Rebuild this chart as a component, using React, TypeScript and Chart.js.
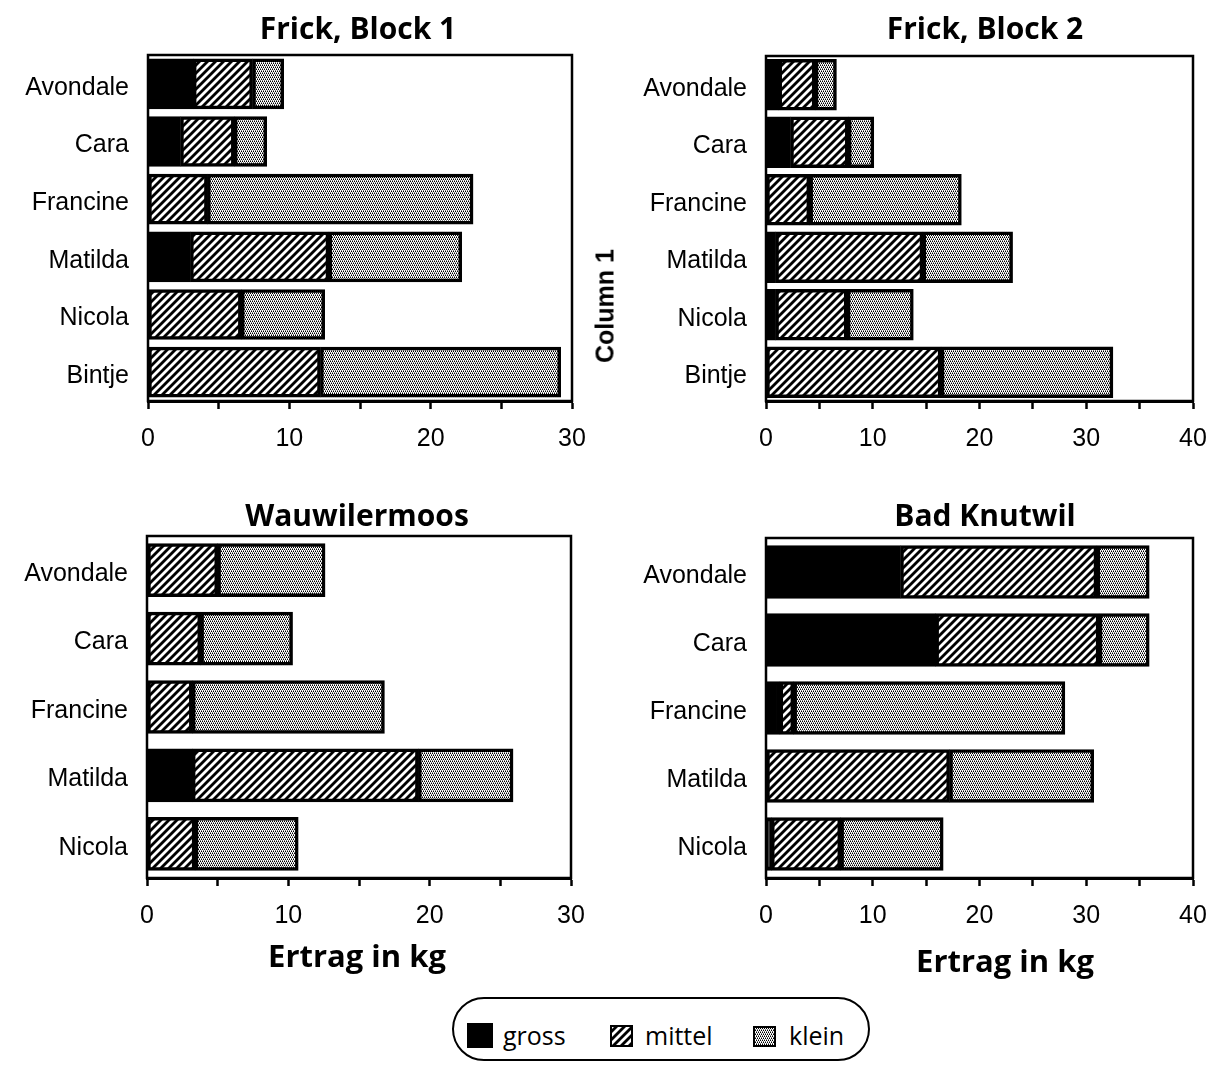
import React, { useEffect, useRef } from "react";
import { Chart, registerables } from "chart.js";

Chart.register(...registerables);

const CATS_TOP = ["Avondale", "Cara", "Francine", "Matilda", "Nicola", "Bintje"];
const CATS_BOTTOM = ["Avondale", "Cara", "Francine", "Matilda", "Nicola"];

const B1_GROSS = [3.2, 2.3, 0, 3.0, 0, 0];
const B1_MITTEL = [4.2, 3.8, 4.2, 9.8, 6.6, 12.2];
const B1_KLEIN = [2.2, 2.3, 18.8, 9.4, 5.9, 17.0];

const B2_GROSS = [1.2, 2.3, 0, 0.9, 0.9, 0];
const B2_MITTEL = [3.4, 5.4, 4.1, 13.8, 6.7, 16.4];
const B2_KLEIN = [2.0, 2.4, 14.2, 8.4, 6.2, 16.1];

const W_GROSS = [0, 0, 0, 3.2, 0];
const W_MITTEL = [5.0, 3.8, 3.2, 16.0, 3.4];
const W_KLEIN = [7.6, 6.5, 13.6, 6.7, 7.3];

const K_GROSS = [12.6, 15.9, 1.3, 0, 0.5];
const K_MITTEL = [18.4, 15.3, 1.3, 17.2, 6.5];
const K_KLEIN = [4.9, 4.7, 25.4, 13.5, 9.6];

const SERIES = ["gross", "mittel", "klein"];
const TITLES = ["Frick, Block 1", "Frick, Block 2", "Wauwilermoos", "Bad Knutwil"];
const X_TITLE = "Ertrag in kg";
const SIDE_LABEL = "Column 1";

const TICK_FONT = "'Liberation Sans', Arial, sans-serif";
const TITLE_FONT = "'Open Sans', sans-serif";

function makeHatch(ctxRef: CanvasRenderingContext2D): CanvasPattern | string {
  const c = document.createElement("canvas");
  const s = 8;
  c.width = s;
  c.height = s;
  const g = c.getContext("2d")!;
  g.fillStyle = "#fff";
  g.fillRect(0, 0, s, s);
  g.strokeStyle = "#000";
  g.lineWidth = 2.8;
  for (let k = -1; k <= 1; k++) {
    g.beginPath();
    g.moveTo(k * s - 1, s + 1);
    g.lineTo(k * s + s + 1, -1);
    g.stroke();
  }
  return ctxRef.createPattern(c, "repeat") || "#888";
}

function makeStipple(ctxRef: CanvasRenderingContext2D): CanvasPattern | string {
  const c = document.createElement("canvas");
  c.width = 4;
  c.height = 4;
  const g = c.getContext("2d")!;
  g.fillStyle = "#fff";
  g.fillRect(0, 0, 4, 4);
  g.fillStyle = "#000";
  [[0, 0], [2, 0], [1, 2], [3, 2]].forEach(([x, y]) => g.fillRect(x, y, 1, 1));
  g.fillStyle = "#777";
  [[1, 1], [3, 1], [0, 3], [2, 3]].forEach(([x, y]) => g.fillRect(x, y, 1, 1));
  return ctxRef.createPattern(c, "repeat") || "#aaa";
}

const frame = {
  id: "frame",
  afterDraw(chart: any) {
    const { ctx, chartArea } = chart;
    ctx.save();
    ctx.strokeStyle = "#000";
    ctx.lineWidth = 2.5;
    ctx.strokeRect(chartArea.left, chartArea.top, chartArea.right - chartArea.left, chartArea.bottom - chartArea.top);
    ctx.restore();
  },
};

type PanelProps = {
  left: number;
  top: number;
  width: number;
  height: number;
  area: { left: number; right: number; top: number; bottom: number };
  max: number;
  cats: string[];
  gross: number[];
  mittel: number[];
  klein: number[];
  thickness: number;
};

function Panel(p: PanelProps) {
  const ref = useRef<HTMLCanvasElement>(null);
  useEffect(() => {
    const cv = ref.current!;
    const ctx = cv.getContext("2d")!;
    const hatch = makeHatch(ctx);
    const stipple = makeStipple(ctx);
    const fills = ["#000", hatch, stipple];
    const vals = [p.gross, p.mittel, p.klein];
    const chart = new Chart(cv, {
      type: "bar",
      data: {
        labels: p.cats,
        datasets: SERIES.map((name, i) => ({
          label: name,
          data: vals[i],
          backgroundColor: fills[i] as any,
          borderColor: "#000",
          borderWidth: 3.5,
          borderSkipped: false,
          barThickness: p.thickness,
        })),
      },
      options: {
        indexAxis: "y",
        animation: false,
        responsive: false,
        maintainAspectRatio: false,
        layout: {
          autoPadding: false,
          padding: {
            left: 0,
            top: p.area.top - p.top,
            right: p.left + p.width - p.area.right,
            bottom: 0,
          },
        },
        plugins: { legend: { display: false }, tooltip: { enabled: false }, title: { display: false } },
        scales: {
          x: {
            stacked: true,
            min: 0,
            max: p.max,
            afterFit: (s: any) => {
              s.height = p.top + p.height - p.area.bottom;
              s.paddingLeft = 0;
              s.paddingRight = 0;
            },
            ticks: {
              stepSize: 5,
              autoSkip: false,
              maxRotation: 0,
              color: "#000",
              padding: 15,
              font: { family: TICK_FONT, size: 25 },
              callback: (v: any) => (Number(v) % 10 === 0 ? String(v) : ""),
            },
            grid: {
              display: true,
              drawOnChartArea: false,
              drawTicks: true,
              tickLength: 8,
              tickWidth: 2.5,
              tickColor: "#000",
              color: "#000",
            },
            border: { display: true, color: "#000", width: 3 },
          },
          y: {
            stacked: true,
            afterFit: (s: any) => {
              s.width = p.area.left - p.left;
              s.paddingTop = 0;
              s.paddingBottom = 0;
            },
            ticks: {
              color: "#000",
              padding: 11,
              labelOffset: 4,
              font: { family: TICK_FONT, size: 25 },
            },
            grid: { display: false },
            border: { display: true, color: "#000", width: 2 },
          },
        },
      },
      plugins: [frame],
    });
    return () => chart.destroy();
  }, []);
  return (
    <canvas
      ref={ref}
      width={p.width}
      height={p.height}
      style={{ position: "absolute", left: p.left, top: p.top, width: p.width, height: p.height }}
    />
  );
}

function Swatch({ kind, left, top, w, h }: { kind: number; left: number; top: number; w: number; h: number }) {
  const ref = useRef<HTMLCanvasElement>(null);
  useEffect(() => {
    const cv = ref.current!;
    const ctx = cv.getContext("2d")!;
    const fill = kind === 0 ? "#000" : kind === 1 ? makeHatch(ctx) : makeStipple(ctx);
    ctx.fillStyle = fill as any;
    ctx.fillRect(0, 0, w, h);
    ctx.strokeStyle = "#000";
    ctx.lineWidth = 4;
    ctx.strokeRect(0, 0, w, h);
  }, []);
  return <canvas ref={ref} width={w} height={h} style={{ position: "absolute", left, top, width: w, height: h }} />;
}

const titleStyle = (cx: number, cy: number, size: number): React.CSSProperties => ({
  position: "absolute",
  left: cx,
  top: cy,
  transform: "translate(-50%, -50%)",
  fontFamily: TITLE_FONT,
  fontWeight: 700,
  fontSize: size,
  whiteSpace: "nowrap",
  color: "#000",
  lineHeight: 1,
});

export default function App() {
  return (
    <div style={{ position: "absolute", left: 0, top: 0, width: 1217, height: 1066, background: "#fff", overflow: "hidden" }}>
      <Panel
        left={0}
        top={45}
        width={600}
        height={420}
        area={{ left: 148, right: 572, top: 55, bottom: 401 }}
        max={30}
        cats={CATS_TOP}
        gross={B1_GROSS}
        mittel={B1_MITTEL}
        klein={B1_KLEIN}
        thickness={50}
      />
      <Panel
        left={610}
        top={45}
        width={607}
        height={420}
        area={{ left: 766, right: 1193, top: 56, bottom: 401 }}
        max={40}
        cats={CATS_TOP}
        gross={B2_GROSS}
        mittel={B2_MITTEL}
        klein={B2_KLEIN}
        thickness={51}
      />
      <Panel
        left={0}
        top={525}
        width={600}
        height={420}
        area={{ left: 147, right: 571, top: 536, bottom: 878 }}
        max={30}
        cats={CATS_BOTTOM}
        gross={W_GROSS}
        mittel={W_MITTEL}
        klein={W_KLEIN}
        thickness={53}
      />
      <Panel
        left={610}
        top={525}
        width={607}
        height={420}
        area={{ left: 766, right: 1193, top: 538, bottom: 878 }}
        max={40}
        cats={CATS_BOTTOM}
        gross={K_GROSS}
        mittel={K_MITTEL}
        klein={K_KLEIN}
        thickness={53}
      />
      <div style={titleStyle(358, 28, 30)}>{TITLES[0]}</div>
      <div style={titleStyle(985, 28, 30)}>{TITLES[1]}</div>
      <div style={titleStyle(357, 515, 30)}>{TITLES[2]}</div>
      <div style={titleStyle(985, 515, 30)}>{TITLES[3]}</div>
      <div style={titleStyle(357, 955, 31)}>{X_TITLE}</div>
      <div style={titleStyle(1005, 960, 31)}>{X_TITLE}</div>
      <div
        style={{
          position: "absolute",
          left: 605,
          top: 306,
          transform: "translate(-50%, -50%) rotate(-90deg)",
          fontFamily: TICK_FONT,
          fontWeight: 700,
          fontSize: 25,
          whiteSpace: "nowrap",
          lineHeight: 1,
        }}
      >
        {SIDE_LABEL}
      </div>
      <div
        style={{
          position: "absolute",
          left: 452,
          top: 997,
          width: 418,
          height: 64,
          border: "2.5px solid #000",
          borderRadius: 34,
          boxSizing: "border-box",
        }}
      />
      <Swatch kind={0} left={467} top={1023} w={26} h={25} />
      <Swatch kind={1} left={610} top={1025} w={23} h={22} />
      <Swatch kind={2} left={753} top={1026} w={23} h={21} />
      {SERIES.map((s, i) => (
        <div
          key={s}
          style={{
            position: "absolute",
            left: [503, 645, 789][i],
            top: 1035,
            transform: "translateY(-50%)",
            fontFamily: TITLE_FONT,
            fontSize: 25,
            lineHeight: 1,
            whiteSpace: "nowrap",
          }}
        >
          {s}
        </div>
      ))}
    </div>
  );
}
